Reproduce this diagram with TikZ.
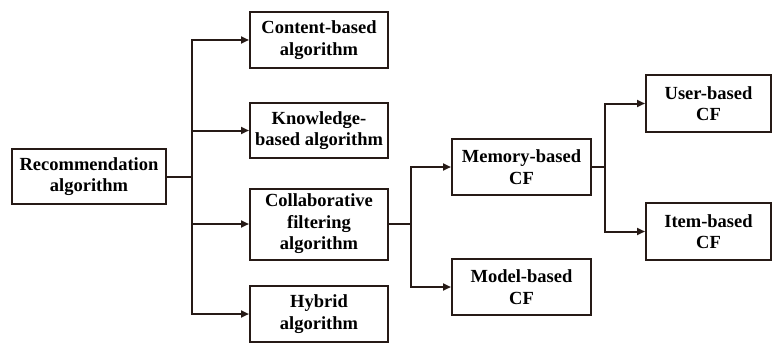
\documentclass[tikz,border=0pt]{standalone}
\usepackage{fontspec}
\setmainfont{Liberation Serif}
\usetikzlibrary{arrows.meta}
\definecolor{ink}{RGB}{38,26,22}
\begin{document}
\begin{tikzpicture}[x=1pt,y=-1pt,
  box/.style={draw=ink, line width=2pt, text=black, align=center, inner sep=0pt,
    font=\fontsize{18.5}{21.5}\selectfont\bfseries},
  conn/.style={draw=ink, line width=2pt},
  arr/.style={conn, -{Triangle[length=8pt,width=7pt]}}]
\useasboundingbox (0,0) rectangle (773,345);
\node[box, minimum width=154pt, minimum height=55pt] (rec) at (89,176.5) {Recommendation\\algorithm};
\node[box, minimum width=138pt, minimum height=56pt] (content) at (319,40) {Content-based\\algorithm};
\node[box, minimum width=138pt, minimum height=55pt] (know) at (319,130.5) {Knowledge-\\based algorithm};
\node[box, minimum width=138pt, minimum height=71pt] (collab) at (319,224) {Collaborative\\filtering\\algorithm};
\node[box, minimum width=138pt, minimum height=56pt] (hybrid) at (319,314) {Hybrid\\algorithm};
\node[box, minimum width=139pt, minimum height=56pt] (memory) at (521.5,167) {Memory-based\\CF};
\node[box, minimum width=139pt, minimum height=56pt] (model) at (521.5,287) {Model-based\\CF};
\node[box, minimum width=125pt, minimum height=57pt] (user) at (708.5,103.5) {User-based\\CF};
\node[box, minimum width=125pt, minimum height=57pt] (item) at (708.5,231.5) {Item-based\\CF};
\coordinate (j1) at (191.7,176.5);
\coordinate (j2) at (411,224);
\coordinate (j3) at (605,167);
\draw[conn] (rec.east) -- (j1);
\draw[arr] (j1) |- (content.west);
\draw[arr] (j1) |- (know.west);
\draw[arr] (j1) |- (collab.west);
\draw[arr] (j1) |- (hybrid.west);
\draw[conn] (collab.east) -- (j2);
\draw[arr] (j2) |- (memory.west);
\draw[arr] (j2) |- (model.west);
\draw[conn] (memory.east) -- (j3);
\draw[arr] (j3) |- (user.west);
\draw[arr] (j3) |- (item.west);
\end{tikzpicture}
\end{document}
